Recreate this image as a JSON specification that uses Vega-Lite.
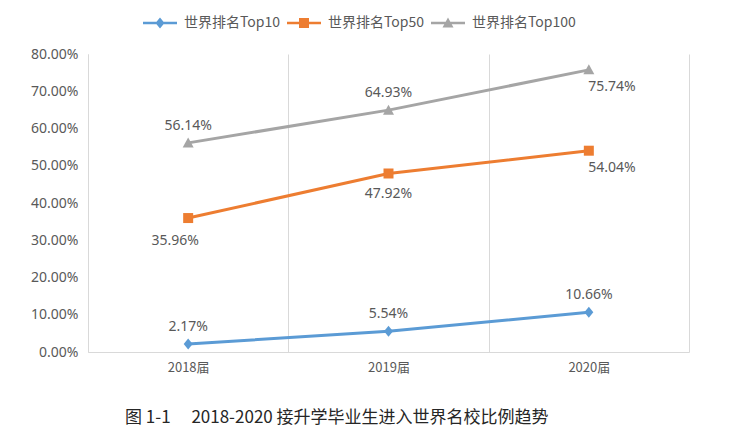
{
  "$schema": "https://vega.github.io/schema/vega-lite/v6.json",
  "width": 601,
  "height": 298,
  "autosize": {"type": "none"},
  "padding": {"left": 88, "top": 54, "right": 43, "bottom": 88},
  "background": "white",
  "config": {"view": {"stroke": null}, "font": "Noto Sans"},
  "title": {
    "text": "图 1-1\u3000 2018-2020 接升学毕业生进入世界名校比例趋势",
    "orient": "bottom",
    "anchor": "start",
    "frame": "group",
    "dx": 37,
    "offset": 36,
    "font": "Noto Sans CJK SC",
    "fontSize": 17,
    "fontWeight": "normal",
    "color": "#262626"
  },
  "data": {
    "values": [
      {"series": "世界排名Top10", "year": 2018, "value": 0.0217},
      {"series": "世界排名Top10", "year": 2019, "value": 0.0554},
      {"series": "世界排名Top10", "year": 2020, "value": 0.1066},
      {"series": "世界排名Top50", "year": 2018, "value": 0.3596},
      {"series": "世界排名Top50", "year": 2019, "value": 0.4792},
      {"series": "世界排名Top50", "year": 2020, "value": 0.5404},
      {"series": "世界排名Top100", "year": 2018, "value": 0.5614},
      {"series": "世界排名Top100", "year": 2019, "value": 0.6493},
      {"series": "世界排名Top100", "year": 2020, "value": 0.7574}
    ]
  },
  "resolve": {"scale": {"shape": "independent"}, "legend": {"color": "independent", "shape": "independent"}},
  "encoding": {
    "x": {
      "field": "year",
      "type": "quantitative",
      "scale": {"domain": [2017.5, 2020.5], "nice": false, "zero": false},
      "axis": {
        "values": [2017.5, 2018, 2018.5, 2019, 2019.5, 2020, 2020.5],
        "labelExpr": "datum.value % 1 === 0 ? datum.value + '届' : ''",
        "title": null,
        "ticks": false,
        "grid": true,
        "gridColor": "#d9d9d9",
        "gridOpacity": {"condition": {"test": "datum.value % 1 === 0", "value": 0}, "value": 1},
        "domainColor": "#d9d9d9",
        "labelColor": "#595959",
        "labelFont": "Noto Sans CJK SC",
        "labelFontSize": 13,
        "labelPadding": 9,
        "labelOverlap": false,
        "labelFlush": false
      }
    },
    "y": {
      "field": "value",
      "type": "quantitative",
      "scale": {"domain": [0, 0.8], "nice": false},
      "axis": {
        "values": [0, 0.1, 0.2, 0.3, 0.4, 0.5, 0.6, 0.7, 0.8],
        "format": ".2%",
        "title": null,
        "grid": false,
        "ticks": false,
        "domainColor": "#d9d9d9",
        "labelColor": "#595959",
        "labelFont": "Noto Sans",
        "labelFontSize": 14,
        "labelPadding": 10
      }
    }
  },
  "layer": [
    {
      "mark": {"type": "line", "strokeWidth": 3},
      "encoding": {
        "color": {
          "field": "series",
          "type": "nominal",
          "scale": {"domain": ["世界排名Top10", "世界排名Top50", "世界排名Top100"], "range": ["#5B9BD5", "#ED7D31", "#A5A5A5"]},
          "legend": null
        }
      }
    },
    {
      "mark": {"type": "point", "filled": true, "size": 100, "opacity": 1, "strokeWidth": 0},
      "encoding": {
        "color": {"field": "series", "type": "nominal", "legend": null},
        "shape": {
          "field": "series",
          "type": "nominal",
          "scale": {
            "domain": ["世界排名Top10", "世界排名Top50", "世界排名Top100"],
            "range": [
              "M0,-1.1L0.9,0L0,1.1L-0.9,0Z",
              "M-1,-1H1V1H-1Z",
              "M0,-1.1L1.1,0.9H-1.1Z"
            ]
          },
          "legend": null
        }
      }
    },
    {
      "mark": {"type": "point", "filled": true, "size": 100, "opacity": 0, "strokeWidth": 0},
      "encoding": {
        "color": {
          "field": "series",
          "type": "nominal",
          "legend": {
            "title": null, "orient": "none", "legendX": 65, "legendY": -38, "direction": "horizontal", "padding": 0,
            "gridAlign": "each",
            "labelFont": "Noto Sans CJK SC", "labelFontSize": 14, "labelColor": "#595959", "labelOffset": 17,
            "columnPadding": 6, "symbolSize": 100, "symbolOpacity": 1, "symbolStrokeWidth": 0
          }
        },
        "shape": {
          "field": "series",
          "type": "nominal",
          "scale": {
            "domain": ["世界排名Top10", "世界排名Top50", "世界排名Top100"],
            "range": [
              "M-3.4,-0.27H3.4V0.27H-3.4Z M0,-1.1L0.9,0L0,1.1L-0.9,0Z",
              "M-3.4,-0.27H3.4V0.27H-3.4Z M-1,-1H1V1H-1Z",
              "M-3.4,-0.27H3.4V0.27H-3.4Z M0,-1.1L1.1,0.9H-1.1Z"
            ]
          },
          "legend": {
            "title": null, "orient": "none", "legendX": 65, "legendY": -38, "direction": "horizontal", "padding": 0,
            "gridAlign": "each",
            "labelFont": "Noto Sans CJK SC", "labelFontSize": 14, "labelColor": "#595959", "labelOffset": 17,
            "columnPadding": 6, "symbolSize": 100, "symbolOpacity": 1, "symbolStrokeWidth": 0
          }
        }
      }
    },
    {
      "transform": [{"filter": "datum.series === '世界排名Top10' || (datum.series === '世界排名Top100' && datum.year !== 2020)"}],
      "mark": {"type": "text", "dy": -17, "fontSize": 14, "color": "#595959", "font": "Noto Sans"},
      "encoding": {"text": {"field": "value", "type": "quantitative", "format": ".2%"}}
    },
    {
      "transform": [{"filter": "datum.series === '世界排名Top50' && datum.year === 2019"}],
      "mark": {"type": "text", "dy": 21, "fontSize": 14, "color": "#595959", "font": "Noto Sans"},
      "encoding": {"text": {"field": "value", "type": "quantitative", "format": ".2%"}}
    },
    {
      "transform": [{"filter": "datum.series !== '世界排名Top10' && datum.year === 2020"}],
      "mark": {"type": "text", "dx": 23, "dy": 17, "fontSize": 14, "color": "#595959", "font": "Noto Sans"},
      "encoding": {"text": {"field": "value", "type": "quantitative", "format": ".2%"}}
    },
    {
      "transform": [{"filter": "datum.series === '世界排名Top50' && datum.year === 2018"}],
      "mark": {"type": "text", "dx": -13, "dy": 23, "fontSize": 14, "color": "#595959", "font": "Noto Sans"},
      "encoding": {"text": {"field": "value", "type": "quantitative", "format": ".2%"}}
    }
  ]
}
